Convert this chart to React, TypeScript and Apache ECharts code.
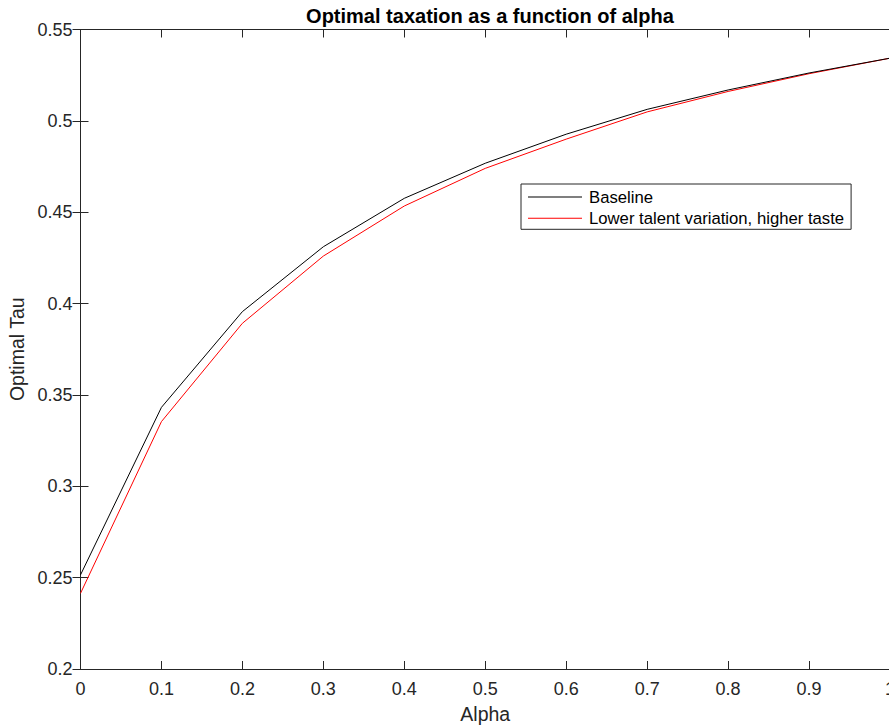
import React, { useEffect, useRef } from "react";
import * as echarts from "echarts";

const alphaValues = [0, 0.1, 0.2, 0.3, 0.4, 0.5, 0.6, 0.7, 0.8, 0.9, 1.0];
const baselineTau = [0.2515, 0.3432, 0.3956, 0.4311, 0.4576, 0.4768, 0.4927, 0.5063, 0.5169, 0.5262, 0.5343];
const lowerTalentTau = [0.2414, 0.3354, 0.3892, 0.4260, 0.4534, 0.4740, 0.4900, 0.5049, 0.5161, 0.5258, 0.5343];
const seriesNames = ["Baseline", "Lower talent variation, higher taste"];
const chartTitle = "Optimal taxation as a function of alpha";
const xName = "Alpha";
const yName = "Optimal Tau";

const FONT = "'Liberation Sans', Arial, Helvetica, sans-serif";
const AX = "#262626";

function fmt(v: number) {
  return String(+v.toFixed(2));
}

export default function App() {
  const ref = useRef<HTMLDivElement>(null);
  useEffect(() => {
    if (!ref.current) return;
    const chart = echarts.init(ref.current, undefined, { renderer: "svg" });
    const tickStyle = { show: true, inside: true, length: 8, lineStyle: { color: AX, width: 1 } };
    const option: any = {
      animation: false,
      backgroundColor: "#ffffff",
      textStyle: { fontFamily: FONT },
      title: {
        text: chartTitle,
        left: 485,
        textAlign: "center",
        top: 1,
        textStyle: { fontFamily: FONT, fontSize: 20, fontWeight: "bold", color: "#000" },
      },
      grid: {
        left: 80.5,
        top: 29.5,
        width: 809.5,
        bottom: 58,
        containLabel: false,
        outerBoundsMode: "none",
      },
      legend: {
        orient: "vertical",
        left: 521,
        top: 184,
        padding: [4, 7, 2, 7],
        borderColor: AX,
        borderWidth: 1,
        backgroundColor: "#fff",
        icon: "rect",
        itemWidth: 54,
        itemHeight: 1,
        itemGap: 3.3,
        textStyle: { fontFamily: FONT, fontSize: 16.7, color: "#000", lineHeight: 18, padding: [0, 0, 0, 2] },
        data: seriesNames,
      },
      xAxis: [
        {
          type: "value",
          min: 0,
          max: 1,
          interval: 0.1,
          name: xName,
          nameLocation: "middle",
          nameGap: 35,
          nameTextStyle: { fontFamily: FONT, fontSize: 19.5, color: AX },
          axisLine: { show: true, lineStyle: { color: AX, width: 1 } },
          axisTick: tickStyle,
          axisLabel: { fontFamily: FONT, fontSize: 18, color: AX, margin: 11, formatter: fmt },
          splitLine: { show: false },
        },
        {
          type: "value",
          position: "top",
          min: 0,
          max: 1,
          interval: 0.1,
          axisLine: { show: true, lineStyle: { color: AX, width: 1 } },
          axisTick: tickStyle,
          axisLabel: { show: false },
          splitLine: { show: false },
        },
      ],
      yAxis: [
        {
          type: "value",
          min: 0.2,
          max: 0.55,
          interval: 0.05,
          name: yName,
          nameLocation: "middle",
          nameGap: 52,
          nameTextStyle: { fontFamily: FONT, fontSize: 19.5, color: AX },
          axisLine: { show: true, lineStyle: { color: AX, width: 1 } },
          axisTick: tickStyle,
          axisLabel: { fontFamily: FONT, fontSize: 18, color: AX, margin: 8, formatter: fmt },
          splitLine: { show: false },
        },
        {
          type: "value",
          position: "right",
          min: 0.2,
          max: 0.55,
          interval: 0.05,
          axisLine: { show: true, lineStyle: { color: AX, width: 1 } },
          axisTick: tickStyle,
          axisLabel: { show: false },
          splitLine: { show: false },
        },
      ],
      series: [
        {
          name: seriesNames[0],
          type: "line",
          data: alphaValues.map((a, i) => [a, baselineTau[i]]),
          showSymbol: false,
          symbol: "none",
          lineStyle: { color: "#000000", width: 1 },
          itemStyle: { color: "#000000" },
          z: 3,
        },
        {
          name: seriesNames[1],
          type: "line",
          data: alphaValues.map((a, i) => [a, lowerTalentTau[i]]),
          showSymbol: false,
          symbol: "none",
          lineStyle: { color: "#ff0000", width: 1 },
          itemStyle: { color: "#ff0000" },
          z: 2,
        },
      ],
    };
    chart.setOption(option);
    return () => chart.dispose();
  }, []);
  return (
    <div
      ref={ref}
      style={{ position: "fixed", left: 0, top: 0, width: 889, height: 727, background: "#fff" }}
    />
  );
}
